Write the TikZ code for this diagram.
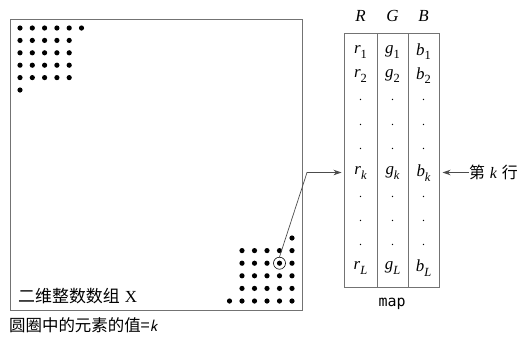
\documentclass[tikz,border=0pt]{standalone}
\usepackage{fontspec}
\newfontfamily\cjk{Noto Sans CJK SC}
\newfontfamily\tms{Liberation Serif}
\newfontfamily\mono{DejaVu Sans Mono}
\newcommand{\ent}[2]{{\tms\itshape #1}\raisebox{-0.25em}{\tms\fontsize{12.5}{13}\selectfont #2}}
\usetikzlibrary{arrows.meta}
\begin{document}
\begin{tikzpicture}[x=1bp,y=-1bp,
  frame/.style={draw=black!55,line width=0.7pt},
  dot/.style={fill=black},
  cell/.style={inner sep=0pt,font=\tms\fontsize{17}{19}\selectfont},
  vdot/.style={inner sep=0pt,font=\tms\fontsize{12}{14}\selectfont},
  conn/.style={draw=black!70,line width=0.7pt,-{Stealth[length=8pt,width=5.5pt]}}]
\useasboundingbox (0,0) rectangle (522,337);
% main array
\node[frame,minimum width=292bp,minimum height=291bp,inner sep=0pt] (arr) at (156,164.5) {};
\node[anchor=west,inner sep=0pt,font=\fontsize{17}{19}\selectfont] (lbl) at (18,296) {{\cjk 二维整数数组} {\tms X}};
% top-left dots
\foreach \i in {0,...,5} \fill[dot] (20+12.3*\i,28) circle (2.6);
\foreach \j in {1,...,4} \foreach \i in {0,...,4} \fill[dot] (20+12.3*\i,28+12.4*\j) circle (2.6);
\fill[dot] (20,90) circle (2.6);
% bottom-right dots
\fill[dot] (292,238) circle (2.6);
\foreach \j in {1,...,4} \foreach \i in {0,...,4} \fill[dot] (292-12.5*\i,238+12.6*\j) circle (2.6);
\foreach \i in {0,...,5} \fill[dot] (292-12.5*\i,301) circle (2.6);
\node[draw=black,line width=0.6pt,circle,minimum size=12bp,inner sep=0pt] (c) at (279.5,263.2) {};
% map table
\node[frame,minimum width=95bp,minimum height=254bp,inner sep=0pt] (map) at (391.5,160) {};
\draw[frame] (377,33) -- (377,287) (408,33) -- (408,287);
\node[cell] (hR) at (360.5,16) {\itshape R};
\node[cell] (hG) at (392.5,16) {\itshape G};
\node[cell] (hB) at (423.5,16) {\itshape B};
\node[cell] (r1) at (360.5,52) {\ent{r}{1}};
\node[cell] (g1) at (392.5,52) {\ent{g}{1}};
\node[cell] (b1) at (423.5,52) {\ent{b}{1}};
\node[cell] (r2) at (360.5,76) {\ent{r}{2}};
\node[cell] (g2) at (392.5,76) {\ent{g}{2}};
\node[cell] (b2) at (423.5,76) {\ent{b}{2}};
\foreach \y in {100,125,149,197,221,245} {
  \node[vdot] at (360.5,\y) {.};
  \node[vdot] at (392.5,\y) {.};
  \node[vdot] at (423.5,\y) {.};
}
\node[cell] (rk) at (360.5,173) {\ent{r}{\itshape k}};
\node[cell] (gk) at (392.5,173) {\ent{g}{\itshape k}};
\node[cell] (bk) at (423.5,173) {\ent{b}{\itshape k}};
\node[cell] (rL) at (360.5,268) {\ent{r}{\itshape L}};
\node[cell] (gL) at (392.5,268) {\ent{g}{\itshape L}};
\node[cell] (bL) at (423.5,268) {\ent{b}{\itshape L}};
\node[inner sep=0pt,font=\mono\fontsize{15}{17}\selectfont] (mapl) at (392,304) {map};
% connectors
\coordinate (bend) at (307,172.5);
\coordinate (tipL) at (341.5,172.5);
\draw[conn] (c.north) -- (bend) -- (tipL);
\node[anchor=west,inner sep=0pt,font=\fontsize{16}{18}\selectfont] (kth) at (469,172.5) {{\cjk 第} {\tms\itshape k} {\cjk 行}};
\coordinate (tipR) at (442.5,172.5);
\draw[conn] (kth.west) -- (tipR);
\node[anchor=west,inner sep=0pt,font=\cjk\fontsize{16.5}{18}\selectfont] (note) at (9,325) {圆圈中的元素的值={\sffamily\itshape k}};
\end{tikzpicture}
\end{document}
